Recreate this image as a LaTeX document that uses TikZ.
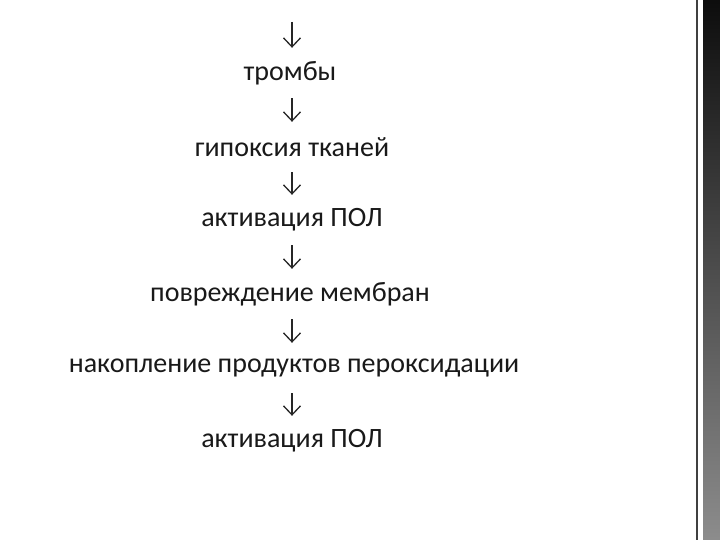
\documentclass[tikz,border=0pt]{standalone}
\usepackage{fontspec}
\setmainfont{Carlito}
\usepackage{tikz}
\usetikzlibrary{arrows.meta,positioning}

\begin{document}
\begin{tikzpicture}[
  x=1pt,y=-1pt,
  step text/.style={font={\fontsize{28}{30}\selectfont},inner sep=0pt,
    minimum height=50pt,text=black!90},
  down/.style={-{Straight Barb[length=9pt,width=17pt,line width=1.3pt]},
    line width=1.3pt,black!85},
  ]
  \useasboundingbox (0,0) rectangle (720,540);
  \fill[white] (0,0) rectangle (720,540);
  % Right border
  \fill[black!75] (696,0) rectangle (698,540);
  \shade[top color=black!95,bottom color=black!45] (703,0) rectangle (720,540);
  % Chain
  \coordinate (top) at (292,22);
  \node[step text] (thromb) at (290,73) {тромбы};
  \node[step text] (hypox) at (292,147) {гипоксия тканей};
  \node[step text] (actA) at (292,220) {активация ПОЛ};
  \node[step text] (damage) at (290,294) {повреждение мембран};
  \node[step text] (accum) at (294,368) {накопление продуктов пероксидации};
  \node[step text] (actB) at (292,441) {активация ПОЛ};
  % Arrows
  \draw[down] (top) -- (top |- thromb.north);
  \draw[down] (thromb.south -| top) -- (hypox.north -| top);
  \draw[down] (hypox.south -| top) -- (actA.north -| top);
  \draw[down] (actA.south -| top) -- (damage.north -| top);
  \draw[down] (damage.south -| top) -- (accum.north -| top);
  \draw[down] (accum.south -| top) -- (actB.north -| top);
\end{tikzpicture}
\end{document}
